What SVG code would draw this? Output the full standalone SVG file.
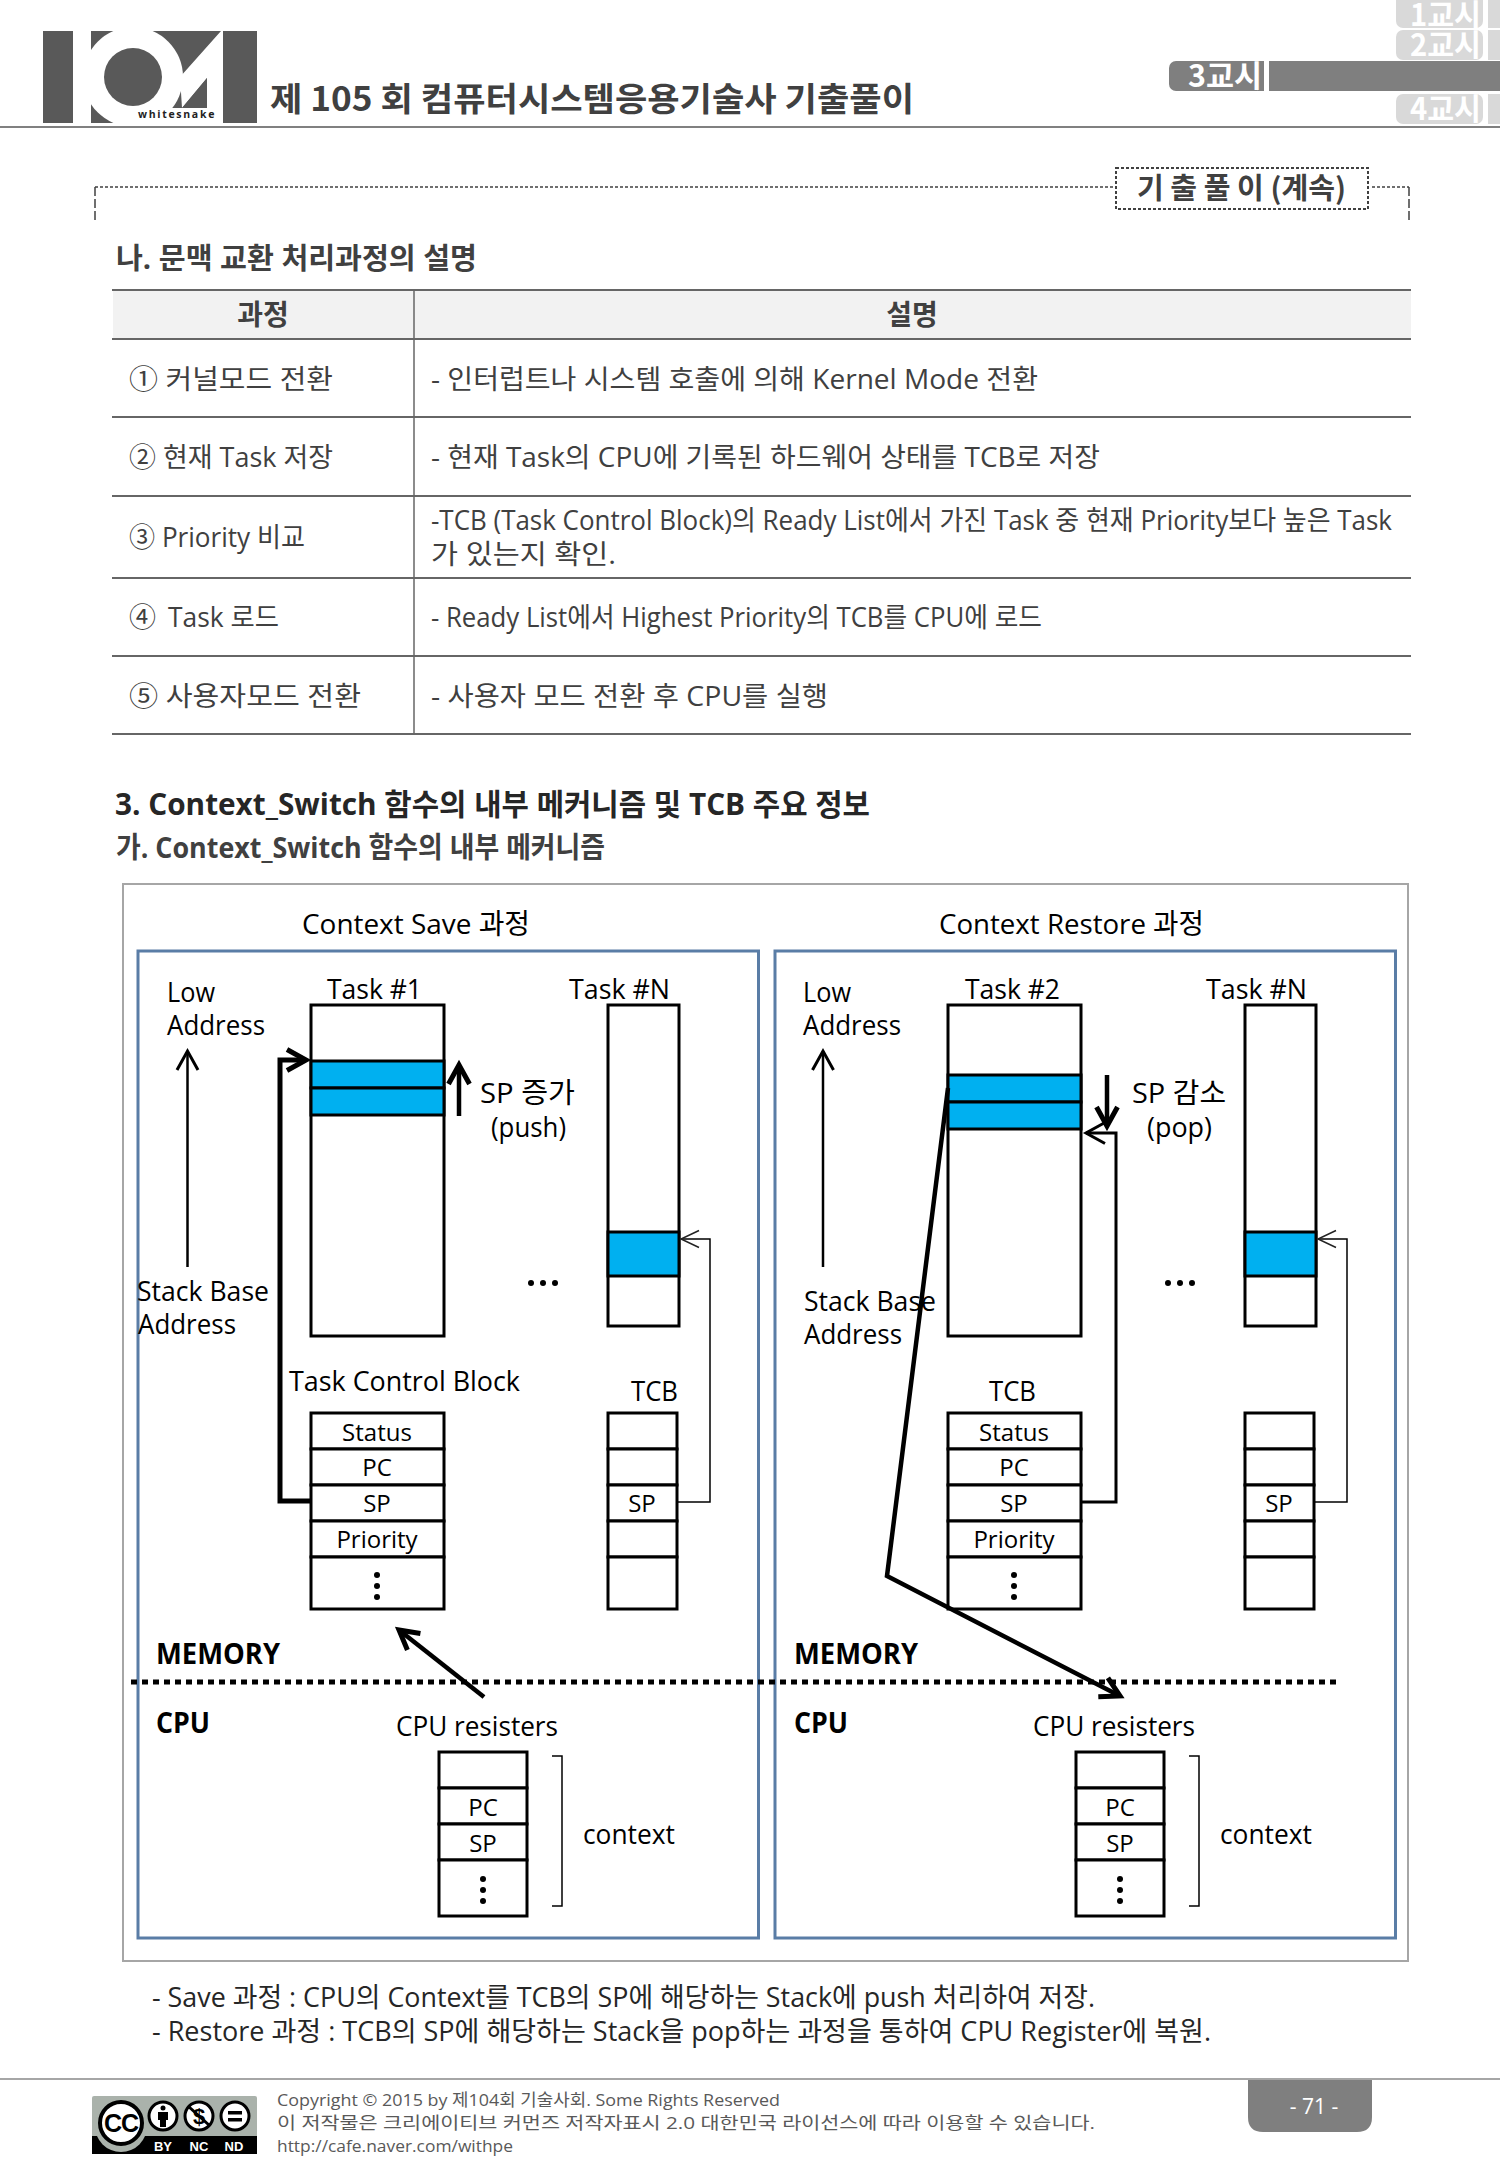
<svg xmlns="http://www.w3.org/2000/svg" width="1500" height="2167" viewBox="0 0 1500 2167">
<style>
text{font-family:"Open Sans","Noto Sans CJK KR",sans-serif;fill:#000}
.k{font-family:"Noto Sans CJK KR","Open Sans",sans-serif}
.t{font-size:27px;fill:#404040}
.h{font-size:29px;font-weight:700;fill:#404040}
.d{font-size:28px}
.c{font-size:24px;text-anchor:middle}
.b{font-size:28px;font-weight:700}
.f{font-size:17px;fill:#595959}
.tab{font-size:31px;font-weight:700;fill:#fff}
.s{fill:#fff;stroke:#000;stroke-width:3}
.u{fill:#00b0f0;stroke:#000;stroke-width:3}
.l{fill:none;stroke:#000}
.r{stroke:#666;stroke-width:2}
.frame{fill:#fff;stroke:#5a7da6;stroke-width:3}
.g{fill:#595959}
</style>
<defs>
<marker id="a-thin" markerUnits="userSpaceOnUse" viewBox="-25 -15 30 30" refX="0" refY="0" markerWidth="30" markerHeight="30" orient="auto" overflow="visible"><path d="M-18,-8.500 L0,0 L-18,8.500" fill="none" stroke="#222" stroke-width="1.500"/></marker>
<marker id="a-mid" markerUnits="userSpaceOnUse" viewBox="-25 -15 30 30" refX="0" refY="0" markerWidth="30" markerHeight="30" orient="auto" overflow="visible"><path d="M-19,-10.500 L0,0 L-19,10.500" fill="none" stroke="#000" stroke-width="3"/></marker>
<marker id="a-thick" markerUnits="userSpaceOnUse" viewBox="-25 -15 30 30" refX="0" refY="0" markerWidth="30" markerHeight="30" orient="auto" overflow="visible"><path d="M-19,-10.500 L0,0 L-19,10.500" fill="none" stroke="#000" stroke-width="5"/></marker>
<clipPath id="logoClip"><rect x="43" y="31" width="214" height="92"/></clipPath>
</defs>
<rect width="1500" height="2167" fill="#fff"/>

<g id="header">
<g id="logo" clip-path="url(#logoClip)">
<rect class="g" x="43" y="31" width="214" height="92"/>
<rect x="73" y="31" width="18" height="92" fill="#fff"/>
<polygon points="221,31 180,77 182,108 207,78 207,108 137,108 137,123 223,123 223,31" fill="#fff"/>
<circle cx="133" cy="77" r="50" fill="#fff"/>
<circle class="g" cx="133" cy="77" r="29"/>
<polygon points="182,108 207,78 207,108" fill="#595959"/>
<rect x="137" y="108" width="86" height="15" fill="#fff"/>
<text x="138" y="118" style="font-size:10.500px;font-weight:700;letter-spacing:1.700px;fill:#222">whitesnake</text>
</g>
<text class="k" x="270" y="111" textLength="644" lengthAdjust="spacingAndGlyphs" style="font-size:33px;font-weight:700;fill:#404040">제 105 회 컴퓨터시스템응용기술사 기출풀이</text>
<rect x="0" y="126" width="1500" height="2" fill="#808080"/>
</g>

<g id="session-tabs">
<rect x="1396" y="-6" width="87" height="34" rx="7" fill="#d9d9d9"/><rect x="1488" y="0" width="12" height="28" fill="#d9d9d9"/>
<text class="k tab" x="1410" y="26" textLength="71" lengthAdjust="spacingAndGlyphs">1교시</text>
<rect x="1396" y="30" width="87" height="30" rx="7" fill="#d9d9d9"/><rect x="1488" y="30" width="12" height="30" fill="#d9d9d9"/>
<text class="k tab" x="1410" y="56" textLength="71" lengthAdjust="spacingAndGlyphs">2교시</text>
<rect x="1169" y="61" width="95" height="30" rx="7" fill="#7f7f7f"/><rect x="1258" y="61" width="6" height="30" fill="#7f7f7f"/><rect x="1269" y="61" width="231" height="30" fill="#7f7f7f"/>
<text class="k tab" x="1188" y="87" textLength="74" lengthAdjust="spacingAndGlyphs">3교시</text>
<rect x="1396" y="94" width="87" height="30" rx="7" fill="#d9d9d9"/><rect x="1488" y="94" width="12" height="30" fill="#d9d9d9"/>
<text class="k tab" x="1410" y="120" textLength="71" lengthAdjust="spacingAndGlyphs">4교시</text>
</g>

<g id="section-frame">
<path d="M95,187 H1117 M1372,187 H1409" fill="none" stroke="#404040" stroke-width="1.500" stroke-dasharray="3 2"/>
<path d="M95,187 V222 M1409,187 V222" fill="none" stroke="#404040" stroke-width="1.500" stroke-dasharray="9 3"/>
<rect x="1116" y="168" width="252" height="41" fill="#fff" stroke="#404040" stroke-width="2" stroke-dasharray="3 2"/>
<text class="k" x="1137" y="199" textLength="209" lengthAdjust="spacingAndGlyphs" style="font-size:29px;font-weight:700;fill:#404040">기 출 풀 이 (계속)</text>
</g>

<text class="h" x="116" y="269" textLength="361" lengthAdjust="spacingAndGlyphs">나. 문맥 교환 처리과정의 설명</text>

<g id="table">
<rect x="113" y="290" width="1298" height="49" fill="#f2f2f2"/>
<g class="r">
<line x1="112" x2="1411" y1="290" y2="290"/><line x1="112" x2="1411" y1="339" y2="339"/><line x1="112" x2="1411" y1="417" y2="417"/><line x1="112" x2="1411" y1="496" y2="496"/><line x1="112" x2="1411" y1="578" y2="578"/><line x1="112" x2="1411" y1="656" y2="656"/><line x1="112" x2="1411" y1="734" y2="734"/>
<line x1="414" x2="414" y1="290" y2="734" stroke-width="1.500"/>
</g>
<text class="k" x="263" y="325" text-anchor="middle" style="font-size:28px;font-weight:700;fill:#404040">과정</text>
<text class="k" x="912" y="325" text-anchor="middle" style="font-size:28px;font-weight:700;fill:#404040">설명</text>
<text class="t" x="129" y="389" textLength="204" lengthAdjust="spacingAndGlyphs">① 커널모드 전환</text>
<text class="t" x="129" y="467" textLength="204" lengthAdjust="spacingAndGlyphs">② 현재 Task 저장</text>
<text class="t" x="129" y="547" textLength="176" lengthAdjust="spacingAndGlyphs">③ Priority 비교</text>
<text class="t" x="129" y="627">④</text><text class="t" x="168" y="627" textLength="111" lengthAdjust="spacingAndGlyphs">Task 로드</text>
<text class="t" x="129" y="706" textLength="232" lengthAdjust="spacingAndGlyphs">⑤ 사용자모드 전환</text>
<text class="t" x="431" y="389" textLength="607" lengthAdjust="spacingAndGlyphs">- 인터럽트나 시스템 호출에 의해 Kernel Mode 전환</text>
<text class="t" x="431" y="467" textLength="669" lengthAdjust="spacingAndGlyphs">- 현재 Task의 CPU에 기록된 하드웨어 상태를 TCB로 저장</text>
<text class="t" x="431" y="530" textLength="961" lengthAdjust="spacingAndGlyphs">-TCB (Task Control Block)의 Ready List에서 가진 Task 중 현재 Priority보다 높은 Task</text>
<text class="t" x="431" y="564" textLength="185" lengthAdjust="spacingAndGlyphs">가 있는지 확인.</text>
<text class="t" x="431" y="627" textLength="611" lengthAdjust="spacingAndGlyphs">- Ready List에서 Highest Priority의 TCB를 CPU에 로드</text>
<text class="t" x="431" y="706" textLength="397" lengthAdjust="spacingAndGlyphs">- 사용자 모드 전환 후 CPU를 실행</text>
</g>

<text x="115" y="815" textLength="755" lengthAdjust="spacingAndGlyphs" style="font-size:30px;font-weight:700;fill:#262626">3. Context_Switch 함수의 내부 메커니즘 및 TCB 주요 정보</text>
<text class="h" x="116" y="858" textLength="489" lengthAdjust="spacingAndGlyphs">가. Context_Switch 함수의 내부 메커니즘</text>

<rect id="outer-frame" x="123" y="884" width="1285" height="1077" fill="#fff" stroke="#a6a6a6" stroke-width="2"/>
<rect id="save-frame" class="frame" x="138" y="951" width="620.500" height="987"/>
<rect id="restore-frame" class="frame" x="775" y="951" width="620.500" height="987"/>

<text class="d" x="302" y="934" textLength="228" lengthAdjust="spacingAndGlyphs">Context Save 과정</text>
<text class="d" x="939" y="934" textLength="265" lengthAdjust="spacingAndGlyphs">Context Restore 과정</text>

<g id="save-labels">
<text class="d" x="167" y="1002" textLength="48" lengthAdjust="spacingAndGlyphs">Low</text><text class="d" x="167" y="1035" textLength="98" lengthAdjust="spacingAndGlyphs">Address</text>
<text class="d" x="137" y="1301" textLength="132" lengthAdjust="spacingAndGlyphs">Stack Base</text><text class="d" x="138" y="1334" textLength="98" lengthAdjust="spacingAndGlyphs">Address</text>
<text class="d" x="327" y="999" textLength="95" lengthAdjust="spacingAndGlyphs">Task #1</text><text class="d" x="569" y="999" textLength="101" lengthAdjust="spacingAndGlyphs">Task #N</text>
<text class="d" x="480" y="1103" textLength="95" lengthAdjust="spacingAndGlyphs">SP 증가</text><text class="d" x="491" y="1137" textLength="75" lengthAdjust="spacingAndGlyphs">(push)</text>
<text class="d" x="289" y="1391" textLength="231" lengthAdjust="spacingAndGlyphs">Task Control Block</text><text class="d" x="631" y="1401" textLength="47" lengthAdjust="spacingAndGlyphs">TCB</text>
<text class="b" x="156" y="1664" textLength="124" lengthAdjust="spacingAndGlyphs">MEMORY</text><text class="b" x="156" y="1733" textLength="54" lengthAdjust="spacingAndGlyphs">CPU</text>
<text class="d" x="396" y="1736" textLength="162" lengthAdjust="spacingAndGlyphs">CPU resisters</text><text class="d" x="583" y="1844" textLength="92" lengthAdjust="spacingAndGlyphs">context</text>
<circle cx="531" cy="1283" r="3"/><circle cx="543" cy="1283" r="3"/><circle cx="555" cy="1283" r="3"/>
</g>
<g id="restore-labels">
<text class="d" x="803" y="1002" textLength="48" lengthAdjust="spacingAndGlyphs">Low</text><text class="d" x="803" y="1035" textLength="98" lengthAdjust="spacingAndGlyphs">Address</text>
<text class="d" x="804" y="1311" textLength="132" lengthAdjust="spacingAndGlyphs">Stack Base</text><text class="d" x="804" y="1344" textLength="98" lengthAdjust="spacingAndGlyphs">Address</text>
<text class="d" x="965" y="999" textLength="95" lengthAdjust="spacingAndGlyphs">Task #2</text><text class="d" x="1206" y="999" textLength="101" lengthAdjust="spacingAndGlyphs">Task #N</text>
<text class="d" x="1132" y="1103" textLength="94" lengthAdjust="spacingAndGlyphs">SP 감소</text><text class="d" x="1147" y="1137" textLength="65" lengthAdjust="spacingAndGlyphs">(pop)</text>
<text class="d" x="989" y="1401" textLength="47" lengthAdjust="spacingAndGlyphs">TCB</text>
<text class="b" x="794" y="1664" textLength="124" lengthAdjust="spacingAndGlyphs">MEMORY</text><text class="b" x="794" y="1733" textLength="54" lengthAdjust="spacingAndGlyphs">CPU</text>
<text class="d" x="1033" y="1736" textLength="162" lengthAdjust="spacingAndGlyphs">CPU resisters</text><text class="d" x="1220" y="1844" textLength="92" lengthAdjust="spacingAndGlyphs">context</text>
<circle cx="1168" cy="1283" r="3"/><circle cx="1180" cy="1283" r="3"/><circle cx="1192" cy="1283" r="3"/>
</g>

<g id="stack-task1"><rect class="s" x="311" y="1005" width="133" height="331"/><rect class="u" x="311" y="1061" width="133" height="27"/><rect class="u" x="311" y="1088" width="133" height="27"/></g>
<g id="stack-save-taskN"><rect class="s" x="608" y="1005" width="71" height="321"/><rect class="u" x="608" y="1232" width="71" height="44"/></g>
<g id="stack-task2"><rect class="s" x="948" y="1005" width="133" height="331"/><rect class="u" x="948" y="1075" width="133" height="27"/><rect class="u" x="948" y="1102" width="133" height="27"/></g>
<g id="stack-restore-taskN"><rect class="s" x="1245" y="1005" width="71" height="321"/><rect class="u" x="1245" y="1232" width="71" height="44"/></g>

<g id="tcb-save">
<rect class="s" x="311" y="1413" width="133" height="36"/><rect class="s" x="311" y="1449" width="133" height="36"/><rect class="s" x="311" y="1485" width="133" height="36"/><rect class="s" x="311" y="1521" width="133" height="36"/><rect class="s" x="311" y="1557" width="133" height="52"/>
<text class="c" x="377" y="1441">Status</text><text class="c" x="377" y="1476">PC</text><text class="c" x="377" y="1512">SP</text><text class="c" x="377" y="1548">Priority</text>
<circle cx="377" cy="1575" r="3"/><circle cx="377" cy="1586" r="3"/><circle cx="377" cy="1597" r="3"/>
</g>
<g id="tcb-save-n">
<rect class="s" x="608" y="1413" width="69" height="36"/><rect class="s" x="608" y="1449" width="69" height="36"/><rect class="s" x="608" y="1485" width="69" height="36"/><rect class="s" x="608" y="1521" width="69" height="36"/><rect class="s" x="608" y="1557" width="69" height="52"/>
<text class="c" x="642" y="1512">SP</text>
</g>
<g id="tcb-restore">
<rect class="s" x="948" y="1413" width="133" height="36"/><rect class="s" x="948" y="1449" width="133" height="36"/><rect class="s" x="948" y="1485" width="133" height="36"/><rect class="s" x="948" y="1521" width="133" height="36"/><rect class="s" x="948" y="1557" width="133" height="52"/>
<text class="c" x="1014" y="1441">Status</text><text class="c" x="1014" y="1476">PC</text><text class="c" x="1014" y="1512">SP</text><text class="c" x="1014" y="1548">Priority</text>
<circle cx="1014" cy="1575" r="3"/><circle cx="1014" cy="1586" r="3"/><circle cx="1014" cy="1597" r="3"/>
</g>
<g id="tcb-restore-n">
<rect class="s" x="1245" y="1413" width="69" height="36"/><rect class="s" x="1245" y="1449" width="69" height="36"/><rect class="s" x="1245" y="1485" width="69" height="36"/><rect class="s" x="1245" y="1521" width="69" height="36"/><rect class="s" x="1245" y="1557" width="69" height="52"/>
<text class="c" x="1279" y="1512">SP</text>
</g>
<g id="cpu-save">
<rect class="s" x="439" y="1752" width="88" height="36"/><rect class="s" x="439" y="1788" width="88" height="36"/><rect class="s" x="439" y="1824" width="88" height="36"/><rect class="s" x="439" y="1860" width="88" height="56"/>
<text class="c" x="483" y="1816">PC</text><text class="c" x="483" y="1852">SP</text>
<circle cx="483" cy="1879" r="3"/><circle cx="483" cy="1890" r="3"/><circle cx="483" cy="1901" r="3"/>
</g>
<g id="cpu-restore">
<rect class="s" x="1076" y="1752" width="88" height="36"/><rect class="s" x="1076" y="1788" width="88" height="36"/><rect class="s" x="1076" y="1824" width="88" height="36"/><rect class="s" x="1076" y="1860" width="88" height="56"/>
<text class="c" x="1120" y="1816">PC</text><text class="c" x="1120" y="1852">SP</text>
<circle cx="1120" cy="1879" r="3"/><circle cx="1120" cy="1890" r="3"/><circle cx="1120" cy="1901" r="3"/>
</g>

<g id="connectors">
<line class="l" x1="131" y1="1682" x2="1336" y2="1682" stroke-width="5" stroke-dasharray="6 5"/>
<line class="l" stroke-width="2.500" x1="187.500" y1="1267" x2="187.500" y2="1051" marker-end="url(#a-mid)"/>
<line class="l" stroke-width="2.500" x1="823" y1="1267" x2="823" y2="1051" marker-end="url(#a-mid)"/>
<line class="l" stroke-width="4.500" x1="459" y1="1116" x2="459" y2="1065" marker-end="url(#a-thick)"/>
<line class="l" stroke-width="4.500" x1="1107" y1="1075" x2="1107" y2="1126" marker-end="url(#a-thick)"/>
<path class="l" stroke-width="5" d="M311,1501 H280 V1060 H306" marker-end="url(#a-thick)"/>
<path class="l" stroke-width="1.500" d="M677,1502 H710 V1239 H681" marker-end="url(#a-thin)"/>
<path class="l" stroke-width="1.500" d="M1314,1502 H1347 V1239 H1318" marker-end="url(#a-thin)"/>
<path class="l" stroke-width="3" d="M1081,1502 H1116 V1133 H1086" marker-end="url(#a-mid)"/>
<line class="l" stroke-width="4.500" x1="484" y1="1697" x2="399" y2="1630" marker-end="url(#a-thick)"/>
<path class="l" stroke-width="4.500" d="M948,1088 L887,1576 L1120,1696" marker-end="url(#a-thick)"/>
<path class="l" stroke-width="1.500" stroke="#333" d="M552,1756 H562 V1906 H552"/>
<path class="l" stroke-width="1.500" stroke="#333" d="M1189,1756 H1199 V1906 H1189"/>
</g>

<g id="notes">
<text class="t" x="152" y="2007" textLength="943" lengthAdjust="spacingAndGlyphs" style="fill:#262626">- Save 과정 : CPU의 Context를 TCB의 SP에 해당하는 Stack에 push 처리하여 저장.</text>
<text class="t" x="152" y="2041" textLength="1059" lengthAdjust="spacingAndGlyphs" style="fill:#262626">- Restore 과정 : TCB의 SP에 해당하는 Stack을 pop하는 과정을 통하여 CPU Register에 복원.</text>
</g>

<g id="footer">
<rect x="0" y="2078" width="1500" height="2" fill="#a6a6a6"/>
<g id="cc-badge">
<rect x="92" y="2096" width="165" height="58" rx="2" fill="#aab2ab"/>
<rect x="92" y="2136" width="165" height="18" fill="#000"/>
<circle cx="121" cy="2126" r="26" fill="#aab2ab"/>
<circle cx="121" cy="2123" r="21" fill="#fff" stroke="#000" stroke-width="4"/>
<text x="121" y="2132" text-anchor="middle" style="font-family:'Liberation Sans',sans-serif;font-size:25px;font-weight:700;letter-spacing:-1px">CC</text>
<circle cx="163" cy="2116" r="14" fill="#fff" stroke="#000" stroke-width="3"/>
<circle cx="163" cy="2108" r="2.500"/><path d="M158,2112 H168 V2120 H166 V2127 H160 V2120 H158 Z"/>
<circle cx="199" cy="2116" r="14" fill="#fff" stroke="#000" stroke-width="3"/>
<text x="199" y="2124" text-anchor="middle" style="font-family:'Liberation Sans',sans-serif;font-size:22px;font-weight:700">$</text>
<line x1="188" y1="2106" x2="210" y2="2126" stroke="#000" stroke-width="3"/>
<circle cx="235" cy="2116" r="14" fill="#fff" stroke="#000" stroke-width="3"/>
<rect x="228" y="2111" width="14" height="3.500"/><rect x="228" y="2118" width="14" height="3.500"/>
<g style="font-size:13px;font-weight:700" text-anchor="middle">
<text x="163" y="2151" style="font-family:'Liberation Sans',sans-serif;fill:#fff">BY</text>
<text x="199" y="2151" style="font-family:'Liberation Sans',sans-serif;fill:#fff">NC</text>
<text x="234" y="2151" style="font-family:'Liberation Sans',sans-serif;fill:#fff">ND</text>
</g>
</g>
<text class="f" x="277" y="2106" textLength="503" lengthAdjust="spacingAndGlyphs">Copyright © 2015 by 제104회 기술사회. Some Rights Reserved</text>
<text class="f" x="277" y="2129" textLength="818" lengthAdjust="spacingAndGlyphs">이 저작물은 크리에이티브 커먼즈 저작자표시 2.0 대한민국 라이선스에 따라 이용할 수 있습니다.</text>
<text class="f" x="277" y="2152" textLength="236" lengthAdjust="spacingAndGlyphs">http://cafe.naver.com/withpe</text>
<path d="M1248,2080 H1372 V2117 Q1372,2132 1357,2132 H1263 Q1248,2132 1248,2117 Z" fill="#7f7f7f"/>
<text x="1314" y="2114" text-anchor="middle" style="font-size:21px;fill:#fff">- 71 -</text>
</g>
</svg>
